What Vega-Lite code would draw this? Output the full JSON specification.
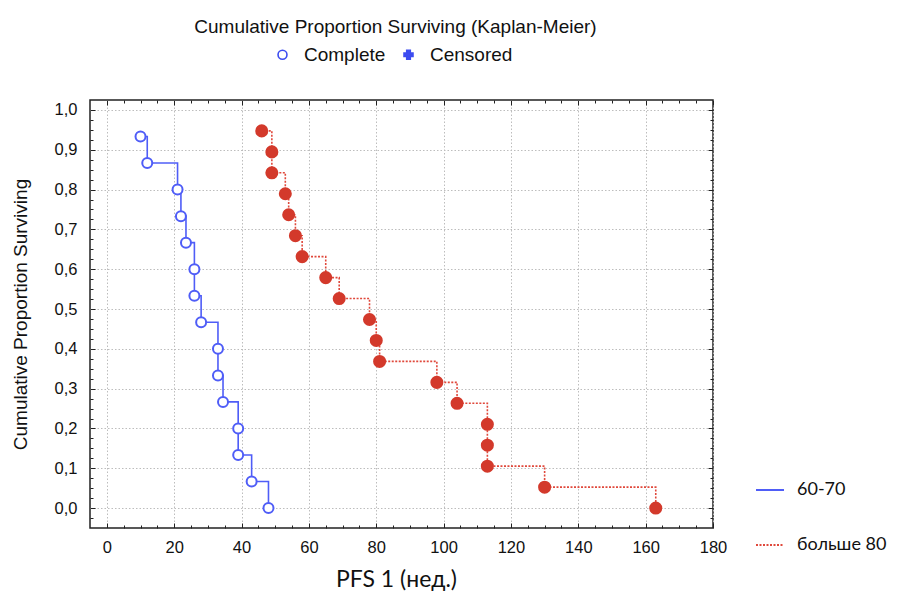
{
  "$schema": "https://vega.github.io/schema/vega-lite/v6.json",
  "width": 623,
  "height": 428,
  "autosize": {"type": "none"},
  "padding": {"left": 90, "top": 100, "right": 185, "bottom": 71},
  "background": "white",
  "title": {
    "text": "Cumulative Proportion Surviving (Kaplan-Meier)",
    "font": "Liberation Sans",
    "fontSize": 19,
    "fontWeight": "normal",
    "color": "#111111",
    "anchor": "middle",
    "frame": "group",
    "orient": "top",
    "offset": 8,
    "dx": -6
  },
  "config": {
    "view": {"stroke": "#222222", "strokeWidth": 1.5},
    "axis": {"domain": false, "tickColor": "#222222", "tickWidth": 1}
  },
  "data": {
    "values": [
      {"g": "60-70", "t": 10, "S": 0.9333},
      {"g": "60-70", "t": 12, "S": 0.8667},
      {"g": "60-70", "t": 21, "S": 0.8},
      {"g": "60-70", "t": 22, "S": 0.7333},
      {"g": "60-70", "t": 23.5, "S": 0.6667},
      {"g": "60-70", "t": 26, "S": 0.6},
      {"g": "60-70", "t": 26, "S": 0.5333},
      {"g": "60-70", "t": 28, "S": 0.4667},
      {"g": "60-70", "t": 33, "S": 0.4},
      {"g": "60-70", "t": 33, "S": 0.3333},
      {"g": "60-70", "t": 34.5, "S": 0.2667},
      {"g": "60-70", "t": 39, "S": 0.2},
      {"g": "60-70", "t": 39, "S": 0.1333},
      {"g": "60-70", "t": 43, "S": 0.0667},
      {"g": "60-70", "t": 48, "S": 0},
      {"g": "больше 80", "t": 46, "S": 0.9474},
      {"g": "больше 80", "t": 49, "S": 0.8947},
      {"g": "больше 80", "t": 49, "S": 0.8421},
      {"g": "больше 80", "t": 53, "S": 0.7895},
      {"g": "больше 80", "t": 54, "S": 0.7368},
      {"g": "больше 80", "t": 56, "S": 0.6842},
      {"g": "больше 80", "t": 58, "S": 0.6316},
      {"g": "больше 80", "t": 65, "S": 0.5789},
      {"g": "больше 80", "t": 69, "S": 0.5263},
      {"g": "больше 80", "t": 78, "S": 0.4737},
      {"g": "больше 80", "t": 80, "S": 0.4211},
      {"g": "больше 80", "t": 81, "S": 0.3684},
      {"g": "больше 80", "t": 98, "S": 0.3158},
      {"g": "больше 80", "t": 104, "S": 0.2632},
      {"g": "больше 80", "t": 113, "S": 0.2105},
      {"g": "больше 80", "t": 113, "S": 0.1579},
      {"g": "больше 80", "t": 113, "S": 0.1053},
      {"g": "больше 80", "t": 130, "S": 0.0526},
      {"g": "больше 80", "t": 163, "S": 0}
    ]
  },
  "layer": [
    {
      "mark": {"type": "line", "interpolate": "step-after", "strokeWidth": 1.6},
      "encoding": {
        "x": {
          "field": "t",
          "type": "quantitative",
          "scale": {"domain": [-5, 180], "nice": false, "zero": false},
          "axis": {
            "orient": "bottom",
            "values": [0,5,10,15,20,25,30,35,40,45,50,55,60,65,70,75,80,85,90,95,100,105,110,115,120,125,130,135,140,145,150,155,160,165,170,175,180],
            "labelExpr": "datum.value % 20 === 0 ? datum.label : ''",
            "labelFont": "Liberation Sans",
            "labelFontSize": 16.5,
            "labelColor": "#111111",
            "labelPadding": 16,
            "labelFlush": false,
            "labelOverlap": false,
            "tickSize": {"condition": {"test": "datum.value % 20 === 0", "value": -5}, "value": -3},
            "grid": true,
            "gridColor": "#bdbdbd",
            "gridDash": [1.5, 2],
            "gridWidth": 1,
            "gridOpacity": {"condition": {"test": "datum.value % 20 === 0", "value": 1}, "value": 0},
            "title": "PFS 1 (нед.)",
            "titleFont": "Lato",
            "titleFontSize": 23,
            "titleFontWeight": "normal",
            "titleColor": "#111111",
            "titlePadding": 11,
            "titleX": 306
          }
        },
        "y": {
          "field": "S",
          "type": "quantitative",
          "scale": {"domain": [-0.05, 1.025], "nice": false, "zero": false},
          "axis": {
            "orient": "left",
            "values": [-0.025,0,0.025,0.05,0.075,0.1,0.125,0.15,0.175,0.2,0.225,0.25,0.275,0.3,0.325,0.35,0.375,0.4,0.425,0.45,0.475,0.5,0.525,0.55,0.575,0.6,0.625,0.65,0.675,0.7,0.725,0.75,0.775,0.8,0.825,0.85,0.875,0.9,0.925,0.95,0.975,1.0],
            "labelExpr": "(abs(datum.value*10 - round(datum.value*10)) < 0.001 && datum.value >= 0) ? replace(format(datum.value, '.1f'), '.', ',') : ''",
            "labelFont": "Liberation Sans",
            "labelFontSize": 16.5,
            "labelColor": "#111111",
            "labelPadding": 18,
            "labelFlush": false,
            "labelOverlap": false,
            "tickSize": {"condition": {"test": "abs(datum.value*10 - round(datum.value*10)) < 0.001", "value": -5}, "value": -3},
            "grid": true,
            "gridColor": "#bdbdbd",
            "gridDash": [1.5, 2],
            "gridWidth": 1,
            "gridOpacity": {"condition": {"test": "abs(datum.value*10 - round(datum.value*10)) < 0.001 && datum.value >= 0", "value": 1}, "value": 0},
            "title": "Cumulative Proportion Surviving",
            "titleFont": "Liberation Sans",
            "titleFontSize": 19,
            "titleFontWeight": "normal",
            "titleColor": "#111111",
            "titlePadding": 24
          }
        },
        "color": {
          "field": "g",
          "type": "nominal",
          "scale": {"domain": ["60-70", "больше 80"], "range": ["#4f5df7", "#e0483b"]},
          "legend": {
            "orient": "none",
            "legendX": 665,
            "legendY": 375,
            "title": null,
            "symbolType": "stroke",
            "symbolStrokeWidth": 2,
            "symbolSize": 784,
            "labelFont": "Lato",
            "labelFontSize": 18,
            "labelColor": "#111111",
            "labelOffset": 12,
            "rowPadding": 31,
            "padding": 0
          }
        },
        "strokeDash": {
          "field": "g",
          "type": "nominal",
          "scale": {"domain": ["60-70", "больше 80"], "range": [[1, 0], [2, 1.5]]}
        },
        "order": {"field": "S", "sort": "descending"}
      }
    },
    {
      "transform": [{"filter": "datum.g === '60-70'"}],
      "mark": {"type": "circle", "fill": "white", "stroke": "#4f5df7", "strokeWidth": 2, "size": 100, "opacity": 1},
      "encoding": {
        "x": {"field": "t", "type": "quantitative", "axis": null},
        "y": {"field": "S", "type": "quantitative", "axis": null}
      }
    },
    {
      "transform": [{"filter": "datum.g === 'больше 80'"}],
      "mark": {"type": "circle", "fill": "#d3392b", "size": 170, "opacity": 1},
      "encoding": {
        "x": {"field": "t", "type": "quantitative", "axis": null},
        "y": {"field": "S", "type": "quantitative", "axis": null}
      }
    },
    {
      "transform": [{"filter": "false"}],
      "mark": {"type": "point", "filled": true, "opacity": 1, "strokeWidth": 1.5},
      "encoding": {
        "shape": {
          "field": "kind",
          "type": "nominal",
          "scale": {"domain": ["Complete", "Censored"], "range": ["circle", "cross"]},
          "legend": {
            "orient": "none",
            "legendX": 183,
            "legendY": -55,
            "direction": "horizontal",
            "title": null,
            "labelFont": "Liberation Sans",
            "labelFontSize": 19,
            "labelColor": "#111111",
            "labelOffset": 12,
            "columnPadding": 13,
            "symbolSize": 80,
            "symbolStrokeWidth": 1.6,
            "padding": 0
          }
        },
        "fill": {
          "field": "kind",
          "type": "nominal",
          "scale": {"domain": ["Complete", "Censored"], "range": ["white", "#3c4cf0"]}
        },
        "stroke": {
          "field": "kind",
          "type": "nominal",
          "scale": {"domain": ["Complete", "Censored"], "range": ["#3c4cf0", "#3c4cf0"]}
        }
      }
    },
    {
      "transform": [{"filter": "false"}],
      "mark": {"type": "point"},
      "encoding": {
        "x": {
          "field": "t",
          "type": "quantitative",
          "axis": {
            "orient": "top",
            "values": [0,5,10,15,20,25,30,35,40,45,50,55,60,65,70,75,80,85,90,95,100,105,110,115,120,125,130,135,140,145,150,155,160,165,170,175,180],
            "labels": false,
            "grid": false,
            "title": null,
            "tickSize": {"condition": {"test": "datum.value % 20 === 0", "value": -5}, "value": -3}
          }
        },
        "y": {
          "field": "S",
          "type": "quantitative",
          "axis": {
            "orient": "right",
            "values": [-0.025,0,0.025,0.05,0.075,0.1,0.125,0.15,0.175,0.2,0.225,0.25,0.275,0.3,0.325,0.35,0.375,0.4,0.425,0.45,0.475,0.5,0.525,0.55,0.575,0.6,0.625,0.65,0.675,0.7,0.725,0.75,0.775,0.8,0.825,0.85,0.875,0.9,0.925,0.95,0.975,1.0],
            "labels": false,
            "grid": false,
            "title": null,
            "tickSize": {"condition": {"test": "abs(datum.value*10 - round(datum.value*10)) < 0.001", "value": -5}, "value": -3}
          }
        }
      }
    }
  ],
  "resolve": {"axis": {"x": "independent", "y": "independent"}}
}
